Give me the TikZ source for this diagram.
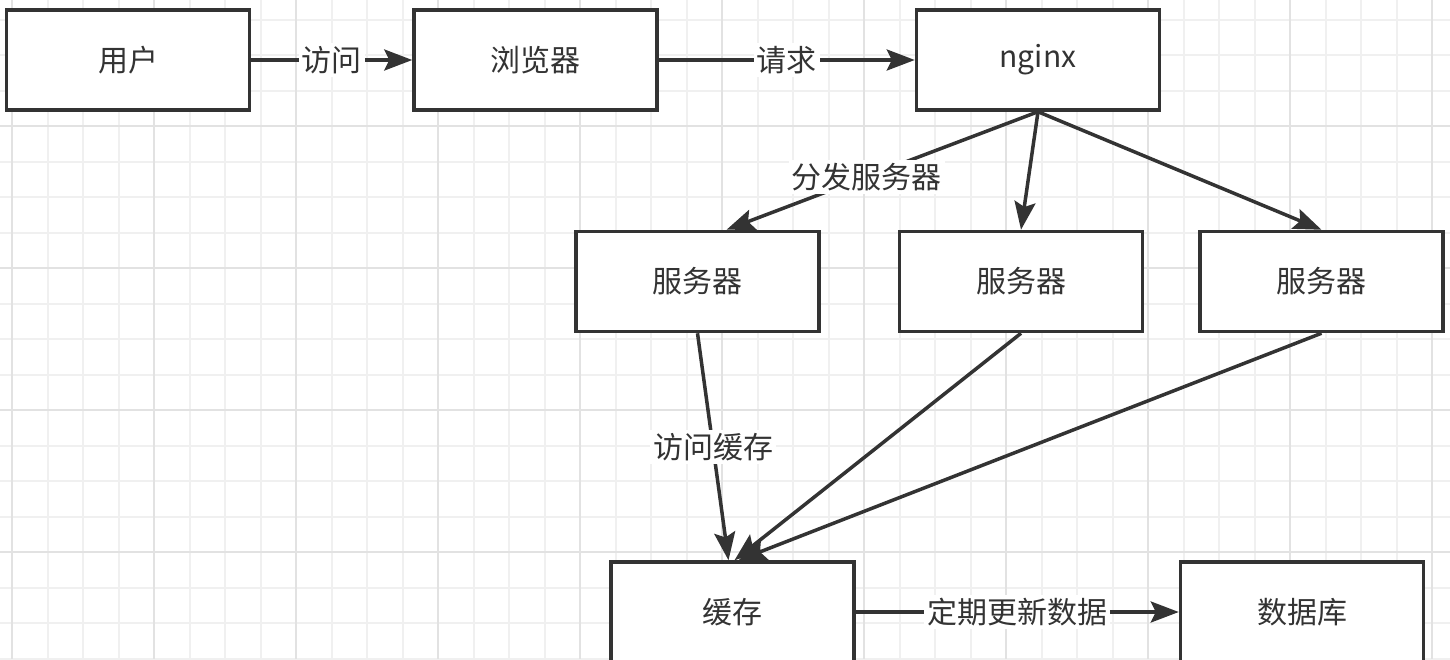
\documentclass[tikz,border=0pt]{standalone}
\usepackage{fontspec}
\setmainfont{Noto Sans CJK SC}
\usetikzlibrary{positioning, arrows.meta}
\definecolor{inkgray}{HTML}{333333}
\definecolor{gridminor}{HTML}{F0F0F0}
\definecolor{gridmajor}{HTML}{E2E2E2}

\begin{document}
\begin{tikzpicture}[
        x=1pt, y=-1pt,
        font=\fontsize{30pt}{36pt}\selectfont,
        box/.style={rectangle, draw=inkgray, line width=3.5pt, fill=white, text=inkgray, minimum width=243pt, minimum height=100pt, align=center},
        arrow/.style={-{Stealth[length=28pt, width=21pt, inset=5pt]}, line width=3.5pt, draw=inkgray},
        lbl/.style={fill=white, text=inkgray, inner sep=3pt},
        minorline/.style={draw=gridminor, line width=2pt},
        majorline/.style={draw=gridmajor, line width=2pt}
    ]

        \useasboundingbox (0,0) rectangle (1450,659);

        % Grid
        \foreach \k in {0,...,40} \draw[minorline] (12+35.5*\k,0) -- ++(0,659);
        \foreach \k in {0,...,18} \draw[minorline] (0,19.5+35.5*\k) -- ++(1450,0);
        \foreach \k in {0,...,10} \draw[majorline] (12+142*\k,0) -- ++(0,659);
        \foreach \k in {1,...,4} \draw[majorline] (0,-16+142*\k) -- ++(1450,0);

        % Nodes
        \node [box] (user) at (128,60) {用户};
        \node [box, right=161pt of user] (browser) {浏览器};
        \node [box, right=256pt of browser] (nginx) {nginx};

        \node [box, below=118pt of nginx, xshift=-17pt] (server2) {服务器};
        \node [box, left=77pt of server2] (server1) {服务器};
        \node [box, right=54pt of server2] (server3) {服务器};

        \node [box, below=227pt of server1, xshift=35pt] (cache) {缓存};
        \node [box, right=323pt of cache] (db) {数据库};

        % Edges
        \draw [arrow] (user) -- node[lbl] {访问} (browser);
        \draw [arrow] (browser) -- node[lbl] {请求} (nginx);

        \draw [arrow] (nginx.south) -- node[lbl, pos=0.55] {分发服务器} ([xshift=29pt]server1.north);
        \draw [arrow] (nginx.south) -- (server2.north);
        \draw [arrow] (nginx.south) -- (server3.north);

        \draw [arrow] (server1.south) -- node[lbl] {访问缓存} ([xshift=-4pt]cache.north);
        \draw [arrow] (server2.south) -- ([xshift=2pt]cache.north);
        \draw [arrow] (server3.south) -- ([xshift=6pt]cache.north);

        \draw [arrow] (cache) -- node[lbl] {定期更新数据} (db);

    \end{tikzpicture}
\end{document}
